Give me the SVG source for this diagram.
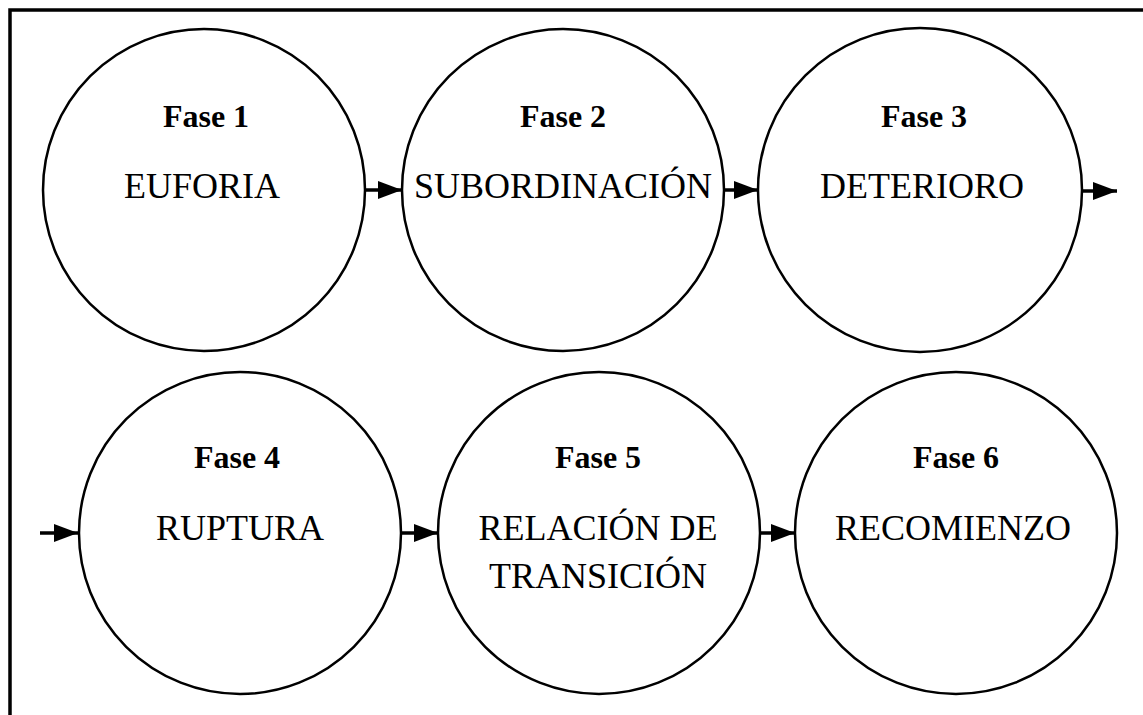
<svg xmlns="http://www.w3.org/2000/svg" width="1143" height="715" viewBox="0 0 1143 715">
<style>
.node circle{fill:#fff;stroke:#000;stroke-width:2.5}
.ph{font-family:'Times New Roman',serif;font-weight:bold;font-size:32px;text-anchor:middle;fill:#000}
.nm{font-family:'Times New Roman',serif;font-size:36px;text-anchor:middle;fill:#000}
.conn line{stroke:#000;stroke-width:3.5;marker-end:url(#ah)}
</style>
<defs>
<marker id="ah" markerUnits="userSpaceOnUse" markerWidth="26" markerHeight="20" refX="24" refY="9" orient="auto">
<path d="M0,0 L24,9 L0,18 Z" fill="#000"/>
</marker>
</defs>
<rect width="1143" height="715" fill="#fff"/>
<path d="M10,715 L10,10 L1143,10" fill="none" stroke="#000" stroke-width="3.5"/>
<g id="fase1" class="node"><circle cx="204" cy="190" r="161"/><text class="ph" x="206" y="127">Fase 1</text><text class="nm" x="202" y="198">EUFORIA</text></g>
<g id="fase2" class="node"><circle cx="563" cy="190" r="161"/><text class="ph" x="563" y="127">Fase 2</text><text class="nm" x="563" y="198">SUBORDINACIÓN</text></g>
<g id="fase3" class="node"><circle cx="920" cy="190" r="162"/><text class="ph" x="924" y="127">Fase 3</text><text class="nm" x="922" y="198">DETERIORO</text></g>
<g id="fase4" class="node"><circle cx="240" cy="533" r="161"/><text class="ph" x="237" y="468">Fase 4</text><text class="nm" x="240" y="540">RUPTURA</text></g>
<g id="fase5" class="node"><circle cx="599" cy="533" r="161"/><text class="ph" x="598" y="468">Fase 5</text><text class="nm" x="598" y="540">RELACIÓN DE</text><text class="nm" x="598" y="588">TRANSICIÓN</text></g>
<g id="fase6" class="node"><circle cx="956" cy="533" r="161"/><text class="ph" x="956" y="468">Fase 6</text><text class="nm" x="953" y="540">RECOMIENZO</text></g>
<g id="connectors" class="conn">
<line x1="365" y1="190" x2="402" y2="190"/>
<line x1="724" y1="190" x2="758" y2="190"/>
<line x1="1082" y1="191" x2="1117" y2="191"/>
<line x1="40" y1="533" x2="78" y2="533"/>
<line x1="401" y1="533" x2="438" y2="533"/>
<line x1="760" y1="533" x2="795" y2="533"/>
</g>
</svg>
